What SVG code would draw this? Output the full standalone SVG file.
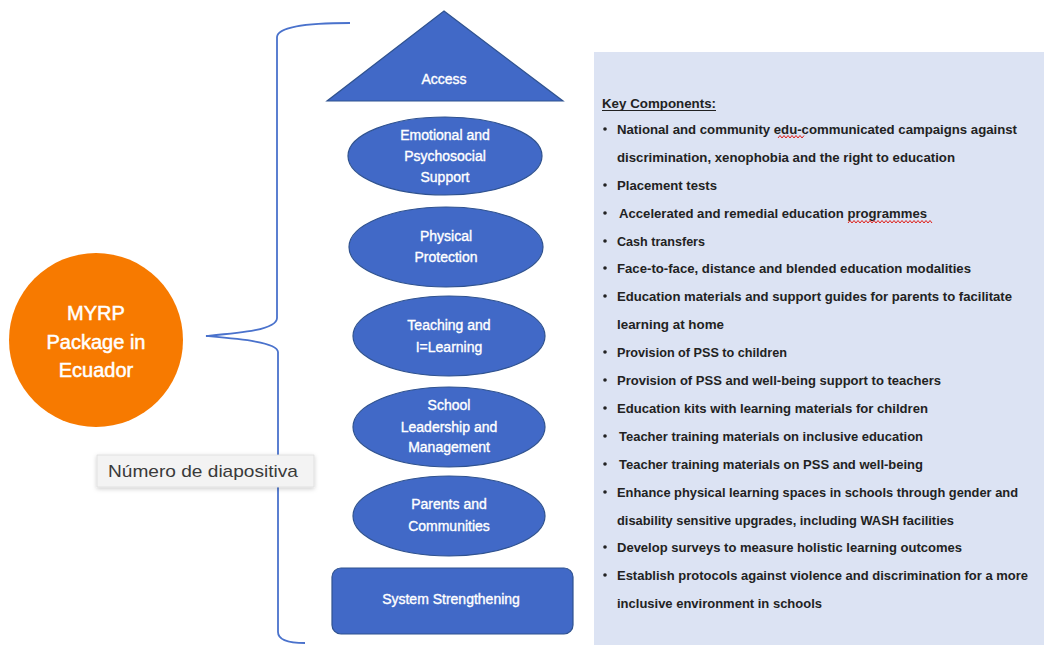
<svg xmlns="http://www.w3.org/2000/svg" width="1044" height="645" viewBox="0 0 1044 645">
<defs>
<style>
.node{fill:#4169c7;stroke:#2f528f;stroke-width:1.2}
.nt{font-family:"Liberation Sans",Arial,sans-serif;font-size:14px;fill:#ffffff;stroke:#ffffff;stroke-width:0.35;text-anchor:middle;dominant-baseline:central}
.ct{font-family:"Liberation Sans",Arial,sans-serif;font-size:20px;fill:#ffffff;stroke:#ffffff;stroke-width:0.5;text-anchor:middle;dominant-baseline:central}
.kt{font-family:"Liberation Sans",Arial,sans-serif;font-size:13px;fill:#222222;font-weight:bold;dominant-baseline:central}
.bl{fill:#222222}
.sq{fill:none;stroke:#e0201a;stroke-width:1}
</style>
<filter id="sh" x="-10%" y="-30%" width="120%" height="170%">
<feDropShadow dx="0" dy="1.5" stdDeviation="2" flood-color="#000" flood-opacity="0.2"/>
</filter>
</defs>
<rect width="1044" height="645" fill="#ffffff"/>

<g id="panel">
<rect x="594" y="52" width="450" height="593" fill="#dce3f3"/>
<text class="kt" x="602" y="103" textLength="114" lengthAdjust="spacingAndGlyphs">Key Components:</text>
<line x1="602" y1="110.5" x2="716" y2="110.5" stroke="#222" stroke-width="1"/>
<g>
<circle class="bl" cx="605" cy="129" r="1.8"/>
<text class="kt" x="617" y="129" textLength="400" lengthAdjust="spacingAndGlyphs">National and community edu-communicated campaigns against</text>
<path class="sq" d="M778,138 l2,-2.5 2,2.5 2,-2.5 2,2.5 2,-2.5 2,2.5 2,-2.5 2,2.5 2,-2.5 2,2.5 2,-2.5 2,2.5 2,-2.5"/>
<text class="kt" x="617" y="157" textLength="338" lengthAdjust="spacingAndGlyphs">discrimination, xenophobia and the right to education</text>
<circle class="bl" cx="605" cy="185" r="1.8"/>
<text class="kt" x="617" y="185" textLength="100" lengthAdjust="spacingAndGlyphs">Placement tests</text>
<circle class="bl" cx="605" cy="213" r="1.8"/>
<text class="kt" x="619" y="213" textLength="308" lengthAdjust="spacingAndGlyphs">Accelerated and remedial education programmes</text>
<path class="sq" d="M848,223 l2,-2.5 2,2.5 2,-2.5 2,2.5 2,-2.5 2,2.5 2,-2.5 2,2.5 2,-2.5 2,2.5 2,-2.5 2,2.5 2,-2.5 2,2.5 2,-2.5 2,2.5 2,-2.5 2,2.5 2,-2.5 2,2.5 2,-2.5 2,2.5 2,-2.5 2,2.5 2,-2.5 2,2.5 2,-2.5 2,2.5 2,-2.5 2,2.5 2,-2.5 2,2.5 2,-2.5 2,2.5 2,-2.5 2,2.5 2,-2.5 2,2.5 2,-2.5 2,2.5 2,-2.5 2,2.5"/>
<circle class="bl" cx="605" cy="241" r="1.8"/>
<text class="kt" x="617" y="241" textLength="88" lengthAdjust="spacingAndGlyphs">Cash transfers</text>
<circle class="bl" cx="605" cy="268" r="1.8"/>
<text class="kt" x="617" y="268" textLength="354" lengthAdjust="spacingAndGlyphs">Face-to-face, distance and blended education modalities</text>
<circle class="bl" cx="605" cy="296" r="1.8"/>
<text class="kt" x="617" y="296" textLength="395" lengthAdjust="spacingAndGlyphs">Education materials and support guides for parents to facilitate</text>
<text class="kt" x="617" y="324" textLength="107" lengthAdjust="spacingAndGlyphs">learning at home</text>
<circle class="bl" cx="605" cy="352" r="1.8"/>
<text class="kt" x="617" y="352" textLength="170" lengthAdjust="spacingAndGlyphs">Provision of PSS to children</text>
<circle class="bl" cx="605" cy="380" r="1.8"/>
<text class="kt" x="617" y="380" textLength="324" lengthAdjust="spacingAndGlyphs">Provision of PSS and well-being support to teachers</text>
<circle class="bl" cx="605" cy="408" r="1.8"/>
<text class="kt" x="617" y="408" textLength="311" lengthAdjust="spacingAndGlyphs">Education kits with learning materials for children</text>
<circle class="bl" cx="605" cy="436" r="1.8"/>
<text class="kt" x="619" y="436" textLength="304" lengthAdjust="spacingAndGlyphs">Teacher training materials on inclusive education</text>
<circle class="bl" cx="605" cy="464" r="1.8"/>
<text class="kt" x="619" y="464" textLength="304" lengthAdjust="spacingAndGlyphs">Teacher training materials on PSS and well-being</text>
<circle class="bl" cx="605" cy="492" r="1.8"/>
<text class="kt" x="617" y="492" textLength="401" lengthAdjust="spacingAndGlyphs">Enhance physical learning spaces in schools through gender and</text>
<text class="kt" x="617" y="520" textLength="337" lengthAdjust="spacingAndGlyphs">disability sensitive upgrades, including WASH facilities</text>
<circle class="bl" cx="605" cy="547" r="1.8"/>
<text class="kt" x="617" y="547" textLength="345" lengthAdjust="spacingAndGlyphs">Develop surveys to measure holistic learning outcomes</text>
<circle class="bl" cx="605" cy="575" r="1.8"/>
<text class="kt" x="617" y="575" textLength="411" lengthAdjust="spacingAndGlyphs">Establish protocols against violence and discrimination for a more</text>
<text class="kt" x="617" y="603" textLength="205" lengthAdjust="spacingAndGlyphs">inclusive environment  in schools</text>
</g>
</g>

<g id="connectors">
<path d="M350,23 C305,23 278,27 277,37 L277,318 C277,330 240,333 206,336 C240,339 277,342 278,352 L278,632 C278,640 290,643 305,643" fill="none" stroke="#4a72cc" stroke-width="1.8"/>
</g>

<g id="myrp">
<circle cx="96" cy="340" r="87" fill="#f77a00"/>
<text class="ct" x="96" y="313">MYRP</text>
<text class="ct" x="96" y="342">Package in</text>
<text class="ct" x="96" y="370">Ecuador</text>
</g>

<g id="access">
<polygon class="node" points="444,11 563,101 327,101"/>
<text class="nt" x="444" y="79">Access</text>
</g>

<g id="emotional">
<ellipse class="node" cx="445" cy="156" rx="97" ry="39"/>
<text class="nt" x="445" y="135">Emotional and</text>
<text class="nt" x="445" y="156">Psychosocial</text>
<text class="nt" x="445" y="177">Support</text>
</g>

<g id="physical">
<ellipse class="node" cx="446" cy="247" rx="97" ry="40"/>
<text class="nt" x="446" y="236">Physical</text>
<text class="nt" x="446" y="257">Protection</text>
</g>

<g id="teaching">
<ellipse class="node" cx="449" cy="336" rx="96" ry="40"/>
<text class="nt" x="449" y="325">Teaching and</text>
<text class="nt" x="449" y="347">I=Learning</text>
</g>

<g id="school">
<ellipse class="node" cx="449" cy="427" rx="96" ry="40"/>
<text class="nt" x="449" y="405">School</text>
<text class="nt" x="449" y="427">Leadership and</text>
<text class="nt" x="449" y="447">Management</text>
</g>

<g id="parents">
<ellipse class="node" cx="449" cy="516" rx="96" ry="40"/>
<text class="nt" x="449" y="504">Parents and</text>
<text class="nt" x="449" y="526">Communities</text>
</g>

<g id="system">
<rect class="node" x="332" y="568" width="241" height="66" rx="9"/>
<text class="nt" x="451" y="599">System Strengthening</text>
</g>

<g id="tooltip">
<rect x="97" y="455" width="217" height="32" fill="#f3f3f3" stroke="#dddddd" stroke-width="0.8" filter="url(#sh)"/>
<text x="108" y="471" textLength="190" lengthAdjust="spacingAndGlyphs" font-family="'Liberation Sans',Arial,sans-serif" font-size="17" fill="#3a3a3a" dominant-baseline="central">Número de diapositiva</text>
</g>
</svg>
